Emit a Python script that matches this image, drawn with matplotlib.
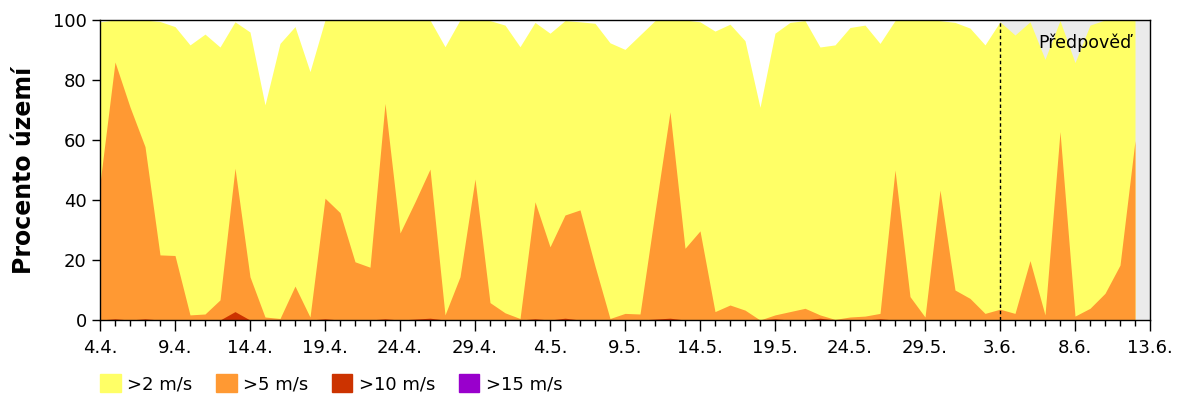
import numpy as np
import matplotlib
matplotlib.use('Agg')
import matplotlib.pyplot as plt
from matplotlib.patches import Patch

# daily values from 4.4. (index 0) to 12.6. (index 69)
tick_labels = ['4.4.', '9.4.', '14.4.', '19.4.', '24.4.', '29.4.', '4.5.', '9.5.',
               '14.5.', '19.5.', '24.5.', '29.5.', '3.6.', '8.6.', '13.6.']
over2 = [99.4, 100, 100, 100, 99.5, 97.8, 91.7, 95.3, 91, 99.4,
         96, 71.7, 92.2, 97.8, 82.8, 100, 100, 100, 100, 100,
         100, 100, 100, 91.1, 100, 100, 99.8, 98.3, 91.1, 99.2,
         95.6, 99.8, 99.4, 98.9, 92.4, 90.2, 95, 99.8, 100, 100,
         99.4, 96.3, 98.6, 93.1, 70.9, 95.6, 99.2, 99.8, 91, 91.7,
         97.5, 98.3, 92.2, 99.8, 100, 100, 99.8, 99.2, 97.3, 91.7,
         99.4, 95, 99.4, 86.9, 99.8, 85.8, 98.3, 100, 100, 100]
over5 = [45.6, 86, 71, 57.8, 21.7, 21.5, 1.7, 2, 6.7, 50.6,
         14.4, 1, 0.5, 11.3, 1, 40.6, 35.8, 19.4, 17.6, 72.2,
         29, 39.4, 50.3, 1.7, 14.4, 47, 5.8, 2.4, 0.5, 39.4,
         24.4, 35, 36.7, 18, 0.5, 2.2, 2, 36, 69.4, 23.9,
         29.7, 2.8, 5, 3.3, 0, 1.7, 2.8, 3.9, 1.7, 0.2,
         1, 1.3, 2.2, 50, 7.8, 1, 43.3, 10, 7.2, 2.2,
         3.6, 2.2, 19.8, 1.7, 62.8, 1.3, 3.9, 8.9, 18.3, 59.8]
over10 = [0, 0.4, 0, 0.4, 0, 0, 0, 0, 0, 2.8,
          0, 0, 0, 0, 0, 0.4, 0, 0, 0, 0.4,
          0, 0.3, 0.6, 0, 0, 0, 0, 0, 0, 0.4,
          0, 0.6, 0, 0, 0, 0, 0, 0.3, 0.6, 0,
          0, 0, 0, 0, 0, 0.4, 0, 0, 0.6, 0,
          0, 0, 0.4, 0, 0, 0, 0, 0, 0, 0,
          0, 0, 0, 0, 0, 0, 0, 0, 0, 0]
over15 = [0] * 70
forecast_start = 60

days = np.arange(len(over2))

fig = plt.figure(figsize=(12, 4), dpi=100)
ax = fig.add_axes([100 / 1200, 80 / 400, 1050 / 1200, 300 / 400])

ax.axvspan(forecast_start, 70, color='#ebebeb', zorder=0, lw=0)
ax.fill_between(days, 0, over2, color='#ffff66', lw=0, zorder=1)
ax.fill_between(days, 0, over5, color='#ff9933', lw=0, zorder=2)
ax.fill_between(days, 0, over10, color='#cc3300', lw=0, zorder=3)
ax.fill_between(days, 0, over15, color='#9900cc', lw=0, zorder=4)
ax.axvline(forecast_start, color='black', lw=1, ls=(0, (2.5, 2)), zorder=5)
ax.text(68.8, 92.5, 'Předpověď', fontsize=12.5, ha='right', va='center', zorder=6)

ax.set_xlim(0, 70)
ax.set_ylim(0, 100)
ax.set_xticks(np.arange(0, 71, 5))
ax.set_xticklabels(tick_labels)
ax.set_xticks(np.arange(0, 71, 1), minor=True)
ax.set_yticks(np.arange(0, 101, 20))
ax.tick_params(axis='x', which='major', length=8, width=1, labelsize=13, pad=6)
ax.tick_params(axis='x', which='minor', length=4, width=1)
ax.tick_params(axis='y', length=6, width=1, labelsize=13)
ax.set_ylabel('Procento území', fontsize=17, fontweight='bold', labelpad=12)
for s in ax.spines.values():
    s.set_linewidth(1)
    s.set_zorder(10)

handles = [Patch(color='#ffff66', label='>2 m/s'),
           Patch(color='#ff9933', label='>5 m/s'),
           Patch(color='#cc3300', label='>10 m/s'),
           Patch(color='#9900cc', label='>15 m/s')]
fig.legend(handles=handles, loc='center left', bbox_to_anchor=(100 / 1200, 16 / 400), ncol=4,
           frameon=False, fontsize=13, handlelength=1.15, handleheight=1.15,
           handletextpad=0.35, columnspacing=1.3, borderpad=0, borderaxespad=0)

fig.savefig('out.png', dpi=100)
